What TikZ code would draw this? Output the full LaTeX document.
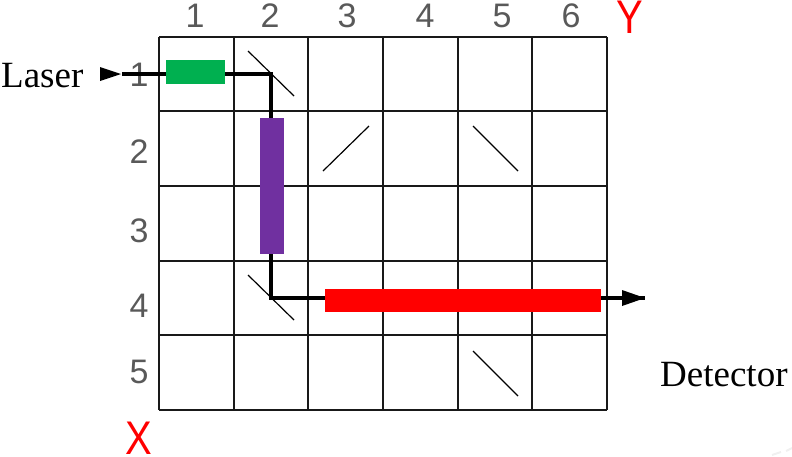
\documentclass[tikz,border=0pt]{standalone}
\usepackage{fontspec}
\setmainfont{Liberation Serif}
\newfontfamily\numfont{Liberation Sans}
\usetikzlibrary{arrows.meta}
\definecolor{numgray}{gray}{0.35}
\definecolor{modgreen}{RGB}{0,176,80}
\definecolor{modpurple}{RGB}{112,48,160}
\tikzset{
    gridline/.style={line width=1.7pt, black!90},
    mirror/.style={line width=1.2pt},
    beam/.style={line width=3.2pt},
    numlabel/.style={font=\numfont\fontsize{34}{34}\selectfont, text=numgray, inner sep=0pt},
    axislabel/.style={font=\numfont\fontsize{40}{40}\selectfont, text=red, inner sep=0pt, yscale=1.18},
    textlabel/.style={font=\fontsize{37}{37}\selectfont, inner sep=0pt},
    module/.style={draw=none, inner sep=0pt}
}
\begin{document}
\begin{tikzpicture}[x=1pt, y=-1pt]
    \useasboundingbox (0, 0) rectangle (792, 456);

    % Faint marks in the corner
    \draw[black!6, line width=2pt] (772, 455) -- (781, 452);
    \draw[black!6, line width=2pt] (786, 451) -- (792, 448);

    % Beam path, behind the grid and the modulators
    \coordinate (beamin) at (122, 74);
    \coordinate (splittop) at (271, 74);
    \coordinate (splitbottom) at (271, 298);
    \coordinate (beamout) at (645, 298);
    \coordinate (tipin) at (121, 74);
    \coordinate (tipstart) at (100, 74);

    % Grid
    \foreach \x in {159, 234, 308, 383, 458, 532, 607}
        \draw[gridline] (\x, 37) -- (\x, 410);
    \foreach \y in {37, 111, 186, 261, 335, 410}
        \draw[gridline] (159, \y) -- (607, \y);

    % Column and row numbers
    \foreach \n/\x in {1/195, 2/270, 3/347, 4/425, 5/502, 6/571}
        \node[numlabel] (col\n) at (\x, 16) {\n};
    \foreach \n/\y in {1/75, 2/152, 3/231, 4/306, 5/372}
        \node[numlabel] (row\n) at (139, \y) {\n};

    % Axis names
    \node[axislabel] (axisY) at (630, 17) {Y};
    \node[axislabel] (axisX) at (139, 438.5) {X};

    % Mirrors
    \draw[mirror] (248, 51) -- (294, 96);
    \draw[mirror] (323, 171) -- (369, 126);
    \draw[mirror] (473, 126) -- (518, 171);
    \draw[mirror] (248, 275) -- (294, 320);
    \draw[mirror] (473, 351) -- (518, 396);

    % Laser beam
    \draw[beam] (beamin) -- (splittop) -- (splitbottom) -- (beamout);
    \draw[-{Triangle[length=21pt, width=14pt]}, line width=0pt] (tipstart) -- (tipin);
    \draw[-{Triangle[length=23pt, width=16pt]}, line width=0pt] (622, 298) -- (beamout);

    % Modulators
    \node[module, fill=modgreen, minimum width=59pt, minimum height=24pt] (greenmod) at (195.5, 72) {};
    \node[module, fill=modpurple, minimum width=24pt, minimum height=136pt] (purplemod) at (272, 186) {};
    \node[module, fill=red, minimum width=276pt, minimum height=23pt] (redmod) at (463, 300.5) {};

    % Labels
    \node[textlabel, anchor=base west] (laser) at (1, 87) {Laser};
    \node[textlabel, anchor=base west] (detector) at (660, 386) {Detector};

\end{tikzpicture}
\end{document}
